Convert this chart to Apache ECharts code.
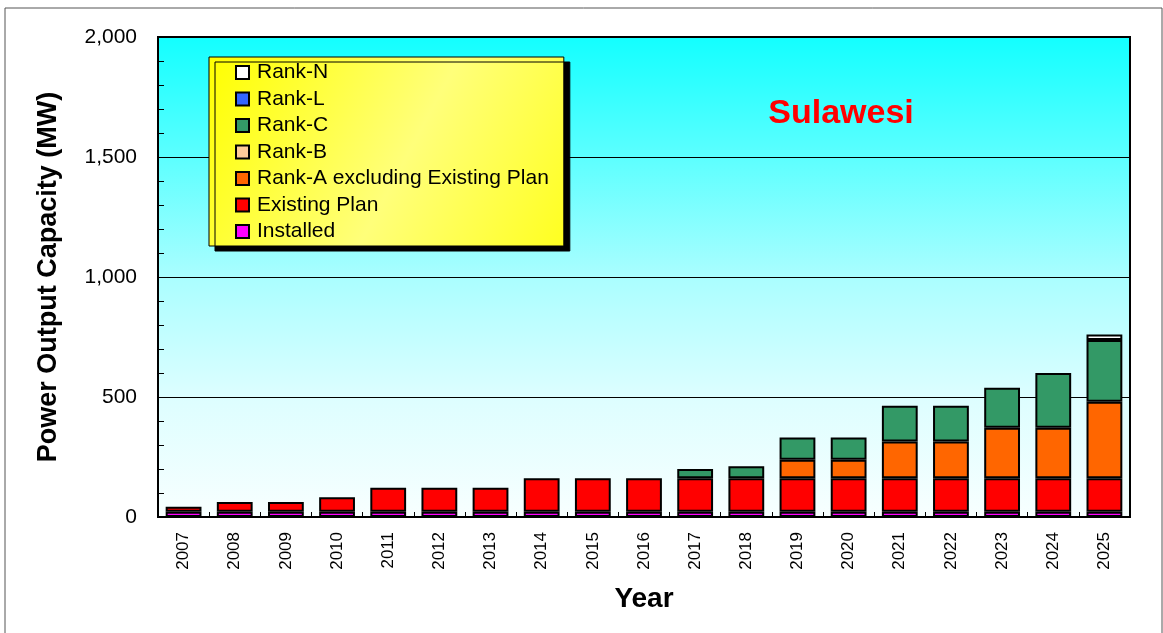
<!DOCTYPE html>
<html>
<head>
<meta charset="utf-8">
<title>Sulawesi</title>
<script src="https://cdn.jsdelivr.net/npm/echarts@6/dist/echarts.min.js"></script>
<style>
  html, body { margin: 0; padding: 0; background: #ffffff; }
  #chart { width: 1163px; height: 633px; }
</style>
</head>
<body>
<div id="chart"></div>
<script>
// Yearly power output capacity (MW), stacked by development rank
const years = ['2007','2008','2009','2010','2011','2012','2013','2014','2015','2016',
               '2017','2018','2019','2020','2021','2022','2023','2024','2025'];
const installed    = [22,22,22,22,22,22,22,22,22,22,22,22,22,22,22,22,22,22,22];
const existingPlan = [21,40,40,60,100,100,100,139,139,139,139,139,139,139,139,139,139,139,139];
const rankA        = [0,0,0,0,0,0,0,0,0,0,0,0,78,78,154,154,211,211,319];
const rankB        = [0,0,0,0,0,0,0,0,0,0,0,0,0,0,0,0,0,0,0];
const rankC        = [0,0,0,0,0,0,0,0,0,0,39,50,92,92,149,149,167,228,257];
const rankL        = [0,0,0,0,0,0,0,0,0,0,0,0,0,0,0,0,0,0,0];
const rankN        = [0,0,0,0,0,0,0,0,0,0,0,0,0,0,0,0,0,0,23];
const yTicks = { min: 0, max: 2000, step: 500 };

const FONT = 'Liberation Sans, Arial, Helvetica, sans-serif';

// series listed bottom-up in the stack
const layers = [
  { name: 'Installed',                       data: installed,    color: '#FF00FF' },
  { name: 'Existing Plan',                   data: existingPlan, color: '#FF0000' },
  { name: 'Rank-A excluding Existing Plan',  data: rankA,        color: '#FF6600' },
  { name: 'Rank-B',                          data: rankB,        color: '#FFCC99' },
  { name: 'Rank-C',                          data: rankC,        color: '#339966' },
  { name: 'Rank-L',                          data: rankL,        color: '#3366FF' },
  { name: 'Rank-N',                          data: rankN,        color: '#FFFFFF' }
];

const chart = echarts.init(document.getElementById('chart'), null, { renderer: 'canvas' });

chart.setOption({
  backgroundColor: '#ffffff',
  animation: false,
  graphic: [
    {
      type: 'rect',
      z: -10,
      shape: { x: 5, y: 8, width: 1157, height: 700 },
      style: { fill: null, stroke: '#555555', lineWidth: 1 }
    },
    {
      type: 'text',
      z: 20,
      x: 841,
      y: 114,
      style: {
        text: 'Sulawesi',
        fill: '#FF0000',
        font: 'bold 34px ' + FONT,
        textAlign: 'center',
        textVerticalAlign: 'middle'
      }
    }
  ],
  legend: {
    orient: 'vertical',
    left: 209,
    top: 57,
    padding: [5, 15, 4, 26],
    itemWidth: 13,
    itemHeight: 13,
    itemGap: 5.5,
    icon: 'rect',
    data: layers.map(l => l.name).reverse(),
    backgroundColor: {
      type: 'linear', x: 0, y: 0, x2: 1, y2: 1,
      colorStops: [
        { offset: 0, color: '#FFFF00' },
        { offset: 0.55, color: '#FFFF7A' },
        { offset: 1, color: '#FFFF20' }
      ]
    },
    borderColor: '#000000',
    borderWidth: 1,
    shadowColor: '#000000',
    shadowBlur: 0,
    shadowOffsetX: 6,
    shadowOffsetY: 5,
    textStyle: {
      fontFamily: FONT,
      fontSize: 21,
      lineHeight: 21,
      color: '#000000',
      padding: [0, 0, 0, 3]
    }
  },
  grid: {
    left: 158,
    right: 33,
    top: 37,
    bottom: 116,
    show: true,
    borderColor: '#000000',
    borderWidth: 2,
    backgroundColor: {
      type: 'linear', x: 0, y: 0, x2: 0, y2: 1,
      colorStops: [
        { offset: 0, color: '#12FFFF' },
        { offset: 0.25, color: '#5CFFFF' },
        { offset: 0.5, color: '#AAFEFF' },
        { offset: 0.75, color: '#DDFEFF' },
        { offset: 1, color: '#F8FFFF' }
      ]
    }
  },
  xAxis: {
    type: 'category',
    data: years,
    name: 'Year',
    nameLocation: 'middle',
    nameGap: 68,
    nameTextStyle: { fontFamily: FONT, fontSize: 28, fontWeight: 'bold', color: '#000000' },
    axisLine: { show: true, lineStyle: { color: '#000000', width: 2 } },
    axisTick: { show: true, inside: true, length: 5, interval: 0, lineStyle: { color: '#000000', width: 1 } },
    axisLabel: { rotate: 90, margin: 15, interval: 0, fontFamily: FONT, fontSize: 17, color: '#000000' },
    splitLine: { show: false }
  },
  yAxis: {
    type: 'value',
    min: yTicks.min,
    max: yTicks.max,
    interval: yTicks.step,
    name: 'Power Output Capacity (MW)',
    nameLocation: 'middle',
    nameGap: 96,
    nameTextStyle: { fontFamily: FONT, fontSize: 27, fontWeight: 'bold', color: '#000000' },
    axisLine: { show: true, lineStyle: { color: '#000000', width: 2 } },
    axisTick: { show: true, inside: true, length: 6, lineStyle: { color: '#000000', width: 1 } },
    minorTick: { show: true, splitNumber: 5, length: 6, lineStyle: { color: '#000000', width: 1 } },
    axisLabel: {
      margin: 21,
      fontFamily: FONT,
      fontSize: 21,
      color: '#000000',
      formatter: v => v.toLocaleString('en-US')
    },
    splitLine: { show: true, lineStyle: { color: '#000000', width: 1 } }
  },
  series: layers.map(l => ({
    name: l.name,
    type: 'bar',
    stack: 'capacity',
    barCategoryGap: '30%',
    data: l.data.map(v => (v > 0 ? v : '-')),
    itemStyle: { color: l.color, borderColor: '#000000', borderWidth: 2 },
    emphasis: { disabled: true }
  }))
});
</script>
</body>
</html>
